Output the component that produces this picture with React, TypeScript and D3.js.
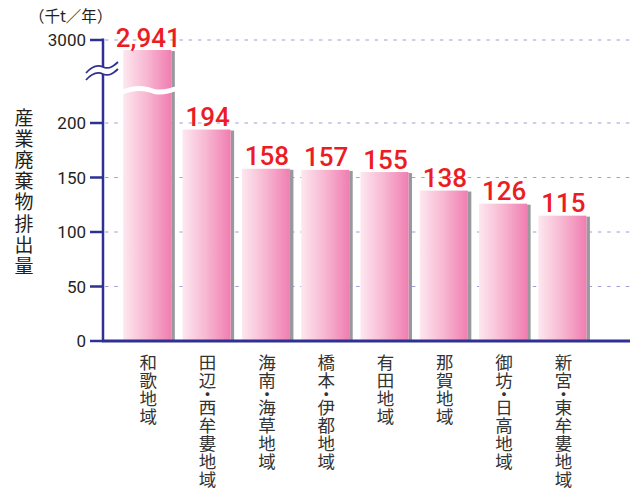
import React from 'react';
import * as d3 from 'd3';

const categories = ['和歌地域', '田辺・西牟婁地域', '海南・海草地域', '橋本・伊都地域', '有田地域', '那賀地域', '御坊・日高地域', '新宮・東牟婁地域'];
const values = [2941, 194, 158, 157, 155, 138, 126, 115];
const valueLabels = ['2,941', '194', '158', '157', '155', '138', '126', '115'];
const lowerTicks = [0, 50, 100, 150, 200];
const upperTicks = [3000];
const yTitle = '産業廃棄物排出量';
const unitLabel = '（千t／年）';

const W = 634;
const H = 492;
const axisColor = '#2e3192';
const gridColor = '#a09ed6';
const numFont = 'Roboto, "Liberation Sans", sans-serif';
const jpFont = '"Noto Sans CJK JP", "Noto Sans", sans-serif';

export default function App() {
  const y = d3.scaleLinear().domain([0, 200, 2800, 3000]).range([341, 123, 74, 40]);
  const x = d3.scaleBand<string>().domain(categories).range([117.65, 592.05]).paddingInner(0.19).paddingOuter(0.095);
  const axisX = 103;
  const xEnd = 630;
  const ticks = [...lowerTicks, ...upperTicks];

  const vertText = (label: string, cx: number, top: number, pitch: number, dotPitch: number, size: number, color: string, key: string) => {
    let cur = top;
    const spans: React.ReactNode[] = [];
    Array.from(label).forEach((ch, i) => {
      const p = ch === '・' ? dotPitch : pitch;
      spans.push(<tspan key={key + i} x={cx} y={cur + p / 2}>{ch}</tspan>);
      cur += p;
    });
    return (
      <text key={key} textAnchor="middle" dominantBaseline="central" fontFamily={jpFont} fontSize={size} fill={color}>
        {spans}
      </text>
    );
  };

  const bw = x.bandwidth();
  const x0First = x(categories[0])!;

  return (
    <svg width={W} height={H} style={{ position: 'absolute', left: 0, top: 0, background: '#fff' }}>
      <defs>
        <linearGradient id="barGrad" x1="0" x2="1" y1="0" y2="0">
          <stop offset="0" stopColor="#fde7ef" />
          <stop offset="0.5" stopColor="#f7b6d1" />
          <stop offset="1" stopColor="#f07eb1" />
        </linearGradient>
      </defs>

      {/* gridlines */}
      {ticks.filter(t => t !== 0).map(t => (
        <line key={'g' + t} x1={axisX + 2} x2={xEnd} y1={y(t)} y2={y(t)} stroke={gridColor}
          strokeWidth={1.2} strokeDasharray="3.5 5.8" />
      ))}

      {/* bars */}
      {categories.map((c, i) => {
        const bx = x(c)!;
        const top = y(values[i]);
        const bottom = y(0);
        return (
          <g key={'b' + c}>
            <rect x={bx + bw} y={top + 1} width={3.5} height={bottom - top - 1} fill="#98989d" />
            <rect x={bx} y={top} width={bw} height={bottom - top} fill="url(#barGrad)" />
          </g>
        );
      })}

      {/* bar break */}
      <path d={`M${x0First - 2},90 C${x0First + 12},84 ${x0First + 22},86 ${x0First + 28},88 C${x0First + 36},91 ${x0First + 44},89 ${x0First + bw + 6},86 L${x0First + bw + 6},91 C${x0First + 44},94 ${x0First + 36},96 ${x0First + 28},93 C${x0First + 22},91 ${x0First + 12},89 ${x0First - 2},95 Z`}
        fill="#fff" />

      {/* value labels */}
      {categories.map((c, i) => (
        <text key={'v' + c} x={x(c)! + bw / 2 + 1} y={y(values[i]) - 3.5} textAnchor="middle"
          fontFamily={numFont} fontWeight={500} fontSize={26} fill="#ec1c24">{valueLabels[i]}</text>
      ))}

      {/* x axis */}
      <line x1={axisX - 1} x2={xEnd} y1={y(0)} y2={y(0)} stroke={axisColor} strokeWidth={3} />
      {/* y axis */}
      <line x1={axisX} x2={axisX} y1={38.5} y2={y(0)} stroke={axisColor} strokeWidth={2.5} />
      {ticks.map(t => (
        <g key={'t' + t}>
          <line x1={90} x2={axisX} y1={y(t)} y2={y(t)} stroke={axisColor} strokeWidth={2.5} />
          <text x={86} y={y(t)} textAnchor="end" dominantBaseline="central" fontFamily={numFont}
            fontSize={17} fill="#231f20">{t}</text>
        </g>
      ))}

      {/* axis break */}
      <path d="M86,73 C92,66 97,64 103,67 C108,69 112,68 118,62 L118,69 C112,75 108,76 103,74 C97,71 92,73 86,80 Z" fill="#fff" />
      <path d="M86,73 C92,66 97,64 103,67 C108,69 112,68 118,62" fill="none" stroke={axisColor} strokeWidth={1.8} />
      <path d="M86,80 C92,73 97,71 103,74 C108,76 112,75 118,69" fill="none" stroke={axisColor} strokeWidth={1.8} />

      {/* unit label */}
      <text x={29} y={22} fontFamily={jpFont} fontSize={15.5} fill="#231f20">{unitLabel}</text>

      {/* y title */}
      {vertText(yTitle, 24, 105, 21.2, 21.2, 19, '#231f20', 'yt')}

      {/* category labels */}
      {categories.map(c => vertText(c, x(c)! + bw / 2 + 1, 352, 18, 9, 17.5, '#333', 'c' + c))}
    </svg>
  );
}
